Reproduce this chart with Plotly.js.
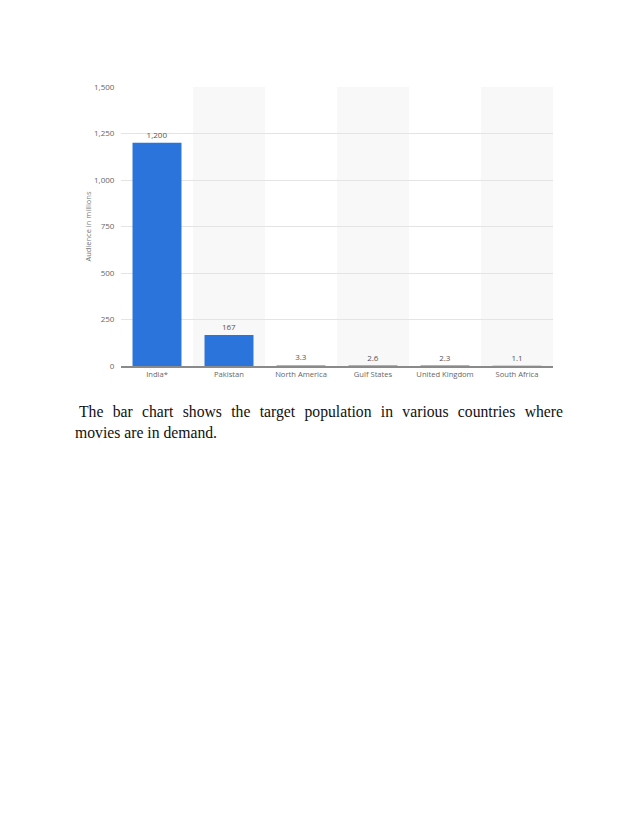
<!DOCTYPE html>
<html>
<head>
<meta charset="utf-8">
<script src="https://cdn.plot.ly/plotly-3.0.1.min.js"></script>
<style>
  body { margin: 0; background: #fff; width: 638px; height: 826px; position: relative; }
  #chart { position: absolute; left: 0; top: 0; width: 638px; height: 400px; }
  .caption {
    position: absolute; margin: 0;
    font-family: "Liberation Serif", "Times New Roman", serif; font-size: 15.7px;
    line-height: 21px; color: #111; white-space: nowrap;
  }
  #line1 { left: 79px; top: 401px; width: 484px; text-align: justify; text-align-last: justify; }
  #line2 { left: 75px; top: 422px; }
</style>
</head>
<body>
<div id="chart"></div>
<div class="caption" id="line1" style="white-space: normal;">The bar chart shows the target population in various countries where</div>
<div class="caption" id="line2">movies are in demand.</div>
<script>
// audience data (millions)
var countries = ['India*', 'Pakistan', 'North America', 'Gulf States', 'United Kingdom', 'South Africa'];
var audience = [1200, 167, 3.3, 2.6, 2.3, 1.1];
var yTicks = [0, 250, 500, 750, 1000, 1250, 1500];

// alternating grey column backgrounds
var bands = [];
for (var i = 1; i < countries.length; i += 2) {
  bands.push({
    type: 'rect', xref: 'x', yref: 'paper', layer: 'below',
    x0: i - 0.5, x1: i + 0.5, y0: 0, y1: 1,
    fillcolor: '#f8f8f8', line: {width: 0}
  });
}

var trace = {
  x: countries,
  y: audience,
  type: 'bar',
  marker: {color: '#2a74dc'},
  texttemplate: '%{y:,}',
  textposition: 'outside',
  cliponaxis: false,
  textfont: {size: 8, color: '#555'},
  hoverinfo: 'none'
};

var layout = {
  width: 638,
  height: 400,
  margin: {l: 121, r: 85, t: 87, b: 34},
  paper_bgcolor: '#fff',
  plot_bgcolor: 'rgba(0,0,0,0)',
  font: {family: '"Open Sans", "DejaVu Sans", sans-serif', size: 8, color: '#666'},
  bargap: 0.32,
  showlegend: false,
  shapes: bands,
  xaxis: {
    type: 'category',
    showline: true, linecolor: '#8a8a8a', linewidth: 1.5,
    showgrid: false, ticks: '', ticklen: 0,
    tickfont: {size: 7.6, color: '#666'}
  },
  yaxis: {
    range: [0, 1500],
    tickvals: yTicks,
    tickformat: ',',
    showgrid: true, gridcolor: '#e4e4e4', gridwidth: 1,
    zeroline: false, showline: false,
    ticks: 'outside', ticklen: 4, tickcolor: 'rgba(0,0,0,0)',
    tickfont: {size: 8, color: '#666'},
    title: {text: 'Audience in millions', font: {size: 7.5, color: '#777'}, standoff: 1}
  }
};

Plotly.newPlot('chart', [trace], layout, {staticPlot: true});
</script>
</body>
</html>
